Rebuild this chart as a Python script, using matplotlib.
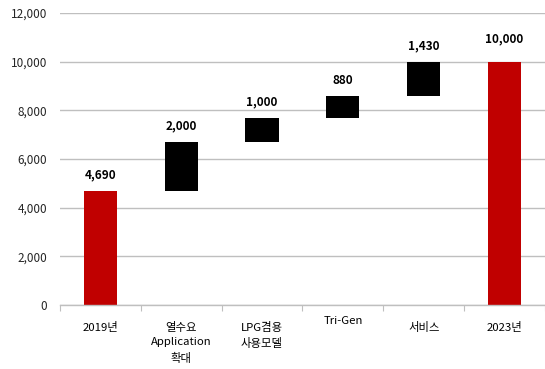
import matplotlib
matplotlib.use("Agg")
import matplotlib.pyplot as plt
from matplotlib.ticker import FuncFormatter
import matplotlib.transforms as mtransforms

plt.rcParams['font.family'] = ['Noto Sans CJK KR', 'DejaVu Sans']

categories = ["2019년", "열수요\nApplication\n확대", "LPG겸용\n사용모델", "Tri-Gen", "서비스", "2023년"]
start_total = 4690
increments = [2000, 1000, 880, 1430]
end_total = 10000
yticks = [0, 2000, 4000, 6000, 8000, 10000, 12000]

RED = "#C00000"
BLACK = "#000000"
GRID = "#BFBFBF"

fig = plt.figure(figsize=(5.45, 3.69), dpi=100)
ax = fig.add_axes([0.110, 0.1734, 0.890, 0.7914])

x = list(range(len(categories)))
width = 0.41

# floating bars: totals start at zero, increments start at running sum
bottoms = [0]
heights = [start_total]
colors = [RED]
running = start_total
for inc in increments:
    bottoms.append(running)
    heights.append(inc)
    colors.append(BLACK)
    running += inc
bottoms.append(0)
heights.append(end_total)
colors.append(RED)

ax.bar(x, heights, width=width, bottom=bottoms, color=colors, zorder=3)

labels = [start_total] + increments + [end_total]
for xi, b, h, v in zip(x, bottoms, heights, labels):
    off = 12 if xi == len(categories) - 1 else 7
    ax.annotate(f"{v:,}", xy=(xi, b + h), xytext=(0, off), textcoords="offset points",
                ha="center", va="bottom", fontsize=8.5, fontweight="bold", color="#000000")

ax.set_xlim(-0.5, len(categories) - 0.5)
ax.set_ylim(0, 12000)
ax.set_yticks(yticks)
ax.yaxis.set_major_formatter(FuncFormatter(lambda v, p: f"{int(v):,}"))
ax.tick_params(axis="y", length=0, pad=9, labelsize=8.5, labelcolor="#262626")
ax.grid(axis="y", color=GRID, linewidth=1, zorder=0)

# category boundaries as tick marks, labels drawn separately
ax.set_xticks([i - 0.5 for i in range(len(categories) + 1)])
ax.set_xticklabels([])
ax.tick_params(axis="x", length=4, width=0.8, color=GRID, direction="out")

trans = mtransforms.blended_transform_factory(ax.transData, ax.transAxes)
for xi, lab in zip(x, categories):
    dy = -12 if lab != "Tri-Gen" else -8
    ax.annotate(lab, xy=(xi, 0), xycoords=trans, xytext=(0, dy), textcoords="offset points",
                ha="center", va="top", fontsize=8.2, color="#000000", linespacing=1.6)

for s in ["top", "right", "left"]:
    ax.spines[s].set_visible(False)
ax.spines["bottom"].set_color(GRID)
ax.spines["bottom"].set_linewidth(1)
ax.spines["bottom"].set_zorder(4)

fig.savefig("out.png", dpi=100)
